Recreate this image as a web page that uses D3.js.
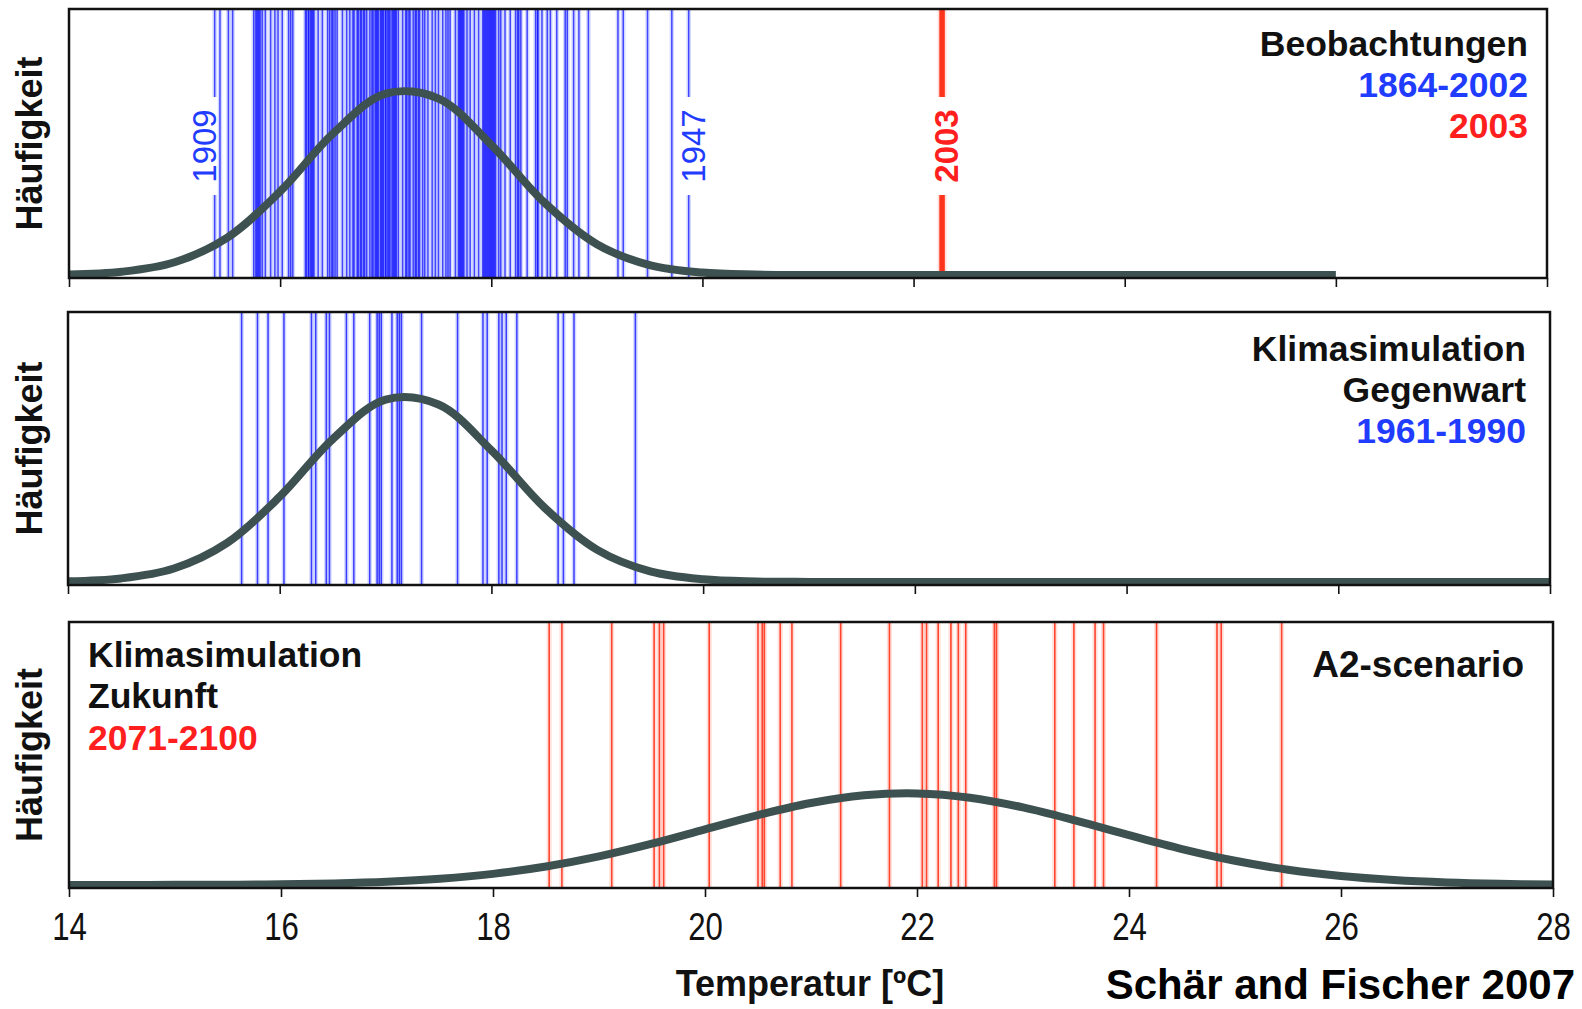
<!DOCTYPE html>
<html>
<head>
<meta charset="utf-8">
<script src="https://cdn.jsdelivr.net/npm/d3@7"></script>
<style>
  html, body { margin: 0; padding: 0; background: #fff; }
  svg { display: block; }
  text { font-family: "Liberation Sans", Arial, Helvetica, sans-serif; }
</style>
</head>
<body>
<script>
// ---- Data -------------------------------------------------------------
// Axis ticks (temperature, °C)
const tempTicks = [14, 16, 18, 20, 22, 24, 26, 28];

// Summer mean temperatures, observations 1864-2002
const obsTemps = [
  15.38, 15.43, 15.51, 15.55,
  15.75, 15.77, 15.78, 15.79, 15.80, 15.81, 15.83, 15.86, 15.91, 15.95, 15.98,
  16.02, 16.08, 16.10, 16.12, 16.24, 16.25, 16.27, 16.27, 16.29, 16.30, 16.31, 16.32,
  16.36, 16.40, 16.45, 16.47, 16.49, 16.50, 16.52, 16.54, 16.59, 16.63, 16.66,
  16.69, 16.70, 16.73, 16.74, 16.76, 16.77, 16.79, 16.80, 16.82, 16.85, 16.87, 16.88,
  16.90, 16.91, 16.92, 16.93, 16.95, 16.96, 16.97, 16.98, 17.00, 17.00, 17.02, 17.03,
  17.04, 17.06, 17.07, 17.08, 17.09, 17.10, 17.12, 17.16, 17.19, 17.20, 17.22, 17.23,
  17.26, 17.28, 17.29, 17.31, 17.32, 17.35, 17.37, 17.40, 17.44, 17.47, 17.50, 17.54,
  17.57, 17.59, 17.61, 17.66, 17.69, 17.70, 17.71, 17.72, 17.73, 17.74, 17.77, 17.80,
  17.84, 17.88, 17.92, 17.93, 17.94, 17.95, 17.96, 17.97, 17.98, 17.99, 18.00, 18.01,
  18.02, 18.03, 18.04, 18.07, 18.09, 18.13, 18.18, 18.23, 18.25, 18.26, 18.28, 18.34,
  18.42, 18.44, 18.44, 18.48, 18.53, 18.56, 18.62, 18.70, 18.72, 18.78, 18.83, 18.92,
  19.20, 19.25, 19.48, 19.71, 19.87
];
// Summer 2003
const obs2003 = [22.27];

// Control simulation 1961-1990
const ctlTemps = [
  15.64, 15.79, 15.89, 16.04, 16.30, 16.34, 16.44, 16.47, 16.63, 16.70,
  16.85, 16.92, 16.94, 16.96, 17.06, 17.11, 17.13, 17.15, 17.34, 17.68,
  17.92, 17.96, 18.07, 18.10, 18.14, 18.24, 18.63, 18.68, 18.78, 19.36
];

// Scenario simulation 2071-2100 (A2)
const scenTemps = [
  18.53, 18.65, 19.12, 19.52, 19.57, 19.61, 20.04, 20.50, 20.54, 20.56,
  20.71, 20.82, 21.28, 21.74, 22.05, 22.09, 22.20, 22.32, 22.39, 22.46,
  22.73, 22.75, 23.30, 23.48, 23.68, 23.76, 24.26, 24.83, 24.87, 25.44
];

// Fitted frequency distributions, sampled every 0.5 °C from 14 °C
const curveTemps = [14, 14.5, 15, 15.5, 16, 16.5, 17, 17.5, 18, 18.5, 19, 19.5, 20, 20.5,
  21, 21.5, 22, 22.5, 23, 23.5, 24, 24.5, 25, 25.5, 26, 26.5, 27, 27.5, 28];
const obsDensity = [0.0014, 0.0074, 0.0288, 0.0847, 0.1891, 0.3201, 0.4108, 0.3995, 0.2946,
  0.1647, 0.0698, 0.0224, 0.0055, 0.0010, 0.0001, 0, 0, 0, 0, 0, 0, 0, 0, 0, 0];
const ctlDensity = [0.0016, 0.0080, 0.0301, 0.0867, 0.1903, 0.3186, 0.4067, 0.3958, 0.2937,
  0.1662, 0.0717, 0.0236, 0.0059, 0.0011, 0.0002, 0, 0, 0, 0, 0, 0, 0, 0, 0, 0, 0, 0, 0, 0];
const scenDensity = [0.0000, 0.0001, 0.0003, 0.0007, 0.0017, 0.0037, 0.0075, 0.0144, 0.0255,
  0.0424, 0.0655, 0.0946, 0.1274, 0.1601, 0.1877, 0.2054, 0.2097, 0.1998, 0.1776, 0.1473,
  0.1140, 0.0823, 0.0555, 0.0349, 0.0205, 0.0112, 0.0057, 0.0027, 0.0012];

// Years written next to individual lines
const yearLabels = ["1909", "1947", "2003"];
const yearLabelTemps = [15.38, 19.87, 22.27];

// ---- Styles -----------------------------------------------------------
const BLUE = "#1414ff", BLUE_HALO = "#8c9cff", BLUE_TEXT = "#1f3cff";
const RED = "#ff2a12", RED_HALO = "#ffab9c", RED_TEXT = "#ff1f1f";
const CURVE = "#3e5151";
const TITLE_SIZE = 35.5;

const W = 1582, H = 1009;
const svg = d3.select("body").append("svg").attr("width", W).attr("height", H);

const yDensity = [0, 0.6];

function drawPanel(p) {
  const x = d3.scaleLinear().domain([14, 28]).range([p.left, p.right]);
  const y = d3.scaleLinear().domain(yDensity).range([p.bottom - 3, p.top + 1]);
  const g = svg.append("g");

  const clipId = "clip-" + p.key;
  svg.append("clipPath").attr("id", clipId)
    .append("rect").attr("x", p.left).attr("y", p.top)
    .attr("width", p.right - p.left).attr("height", p.bottom - p.top);
  const inner = g.append("g").attr("clip-path", `url(#${clipId})`);

  // Vertical lines (one per summer), with a gap where a year is written
  function lineSegments(v) {
    const i = yearLabelTemps.indexOf(v);
    if (p.labels && i >= 0) {
      const cy = p.labelY;
      return [[p.top, cy - 49], [cy + 49, p.bottom]];
    }
    return [[p.top, p.bottom]];
  }
  function drawRug(values, r) {
    const segs = values.flatMap(v => lineSegments(v).map(s => ({ v, y1: s[0], y2: s[1] })));
    inner.append("g").selectAll("line").data(segs).join("line")
      .attr("x1", d => x(d.v)).attr("x2", d => x(d.v))
      .attr("y1", d => d.y1).attr("y2", d => d.y2)
      .attr("stroke", r.halo).attr("stroke-width", r.haloW).attr("stroke-opacity", 0.38);
    inner.append("g").selectAll("line").data(segs).join("line")
      .attr("x1", d => x(d.v)).attr("x2", d => x(d.v))
      .attr("y1", d => d.y1).attr("y2", d => d.y2)
      .attr("stroke", r.core).attr("stroke-width", r.coreW).attr("stroke-opacity", r.coreOp);
  }
  p.rugs.forEach(r => drawRug(r.values, r));

  // Fitted distribution
  const pts = p.density.map((d, i) => [curveTemps[i], d]);
  inner.append("path")
    .datum(pts)
    .attr("fill", "none")
    .attr("stroke", CURVE)
    .attr("stroke-width", 8)
    .attr("d", d3.line().x(d => x(d[0])).y(d => y(d[1])).curve(d3.curveCatmullRom.alpha(0.5)));

  // Year labels on lines
  if (p.labels) {
    yearLabels.forEach((lab, i) => {
      const v = yearLabelTemps[i];
      const isRed = lab === "2003";
      g.append("text")
        .attr("transform", `translate(${x(v) + p.labelDx[i]},${p.labelY}) rotate(-90)`)
        .attr("text-anchor", "middle")
        .attr("dominant-baseline", "central")
        .attr("font-size", 33)
        .attr("font-weight", isRed ? "bold" : "normal")
        .attr("fill", isRed ? RED_TEXT : BLUE_TEXT)
        .text(lab);
    });
  }

  // Frame
  g.append("rect")
    .attr("x", p.left).attr("y", p.top)
    .attr("width", p.right - p.left).attr("height", p.bottom - p.top)
    .attr("fill", "none").attr("stroke", "#111").attr("stroke-width", 2.5);

  // Axis ticks
  const axis = d3.axisBottom(x).tickValues(tempTicks).tickSize(9).tickSizeOuter(0);
  if (!p.tickLabels) axis.tickFormat("");
  const ax = g.append("g").attr("transform", `translate(0,${p.bottom})`).call(axis);
  ax.select(".domain").remove();
  ax.selectAll(".tick line").attr("stroke", "#111").attr("stroke-width", 1.6);
  if (p.tickLabels) {
    ax.selectAll(".tick text")
      .attr("y", 52).attr("dy", 0)
      .attr("font-size", 39)
      .attr("fill", "#111")
      .attr("font-family", "'Liberation Sans', Arial, sans-serif")
      .attr("transform", "scale(0.8,1)");
  }

  // Y-axis title
  g.append("text")
    .attr("transform", `translate(42,${(p.top + p.bottom) / 2}) rotate(-90)`)
    .attr("text-anchor", "middle")
    .attr("font-size", 36).attr("font-weight", "bold").attr("fill", "#111")
    .text("Häufigkeit");

  // Panel titles
  p.titles.forEach(t => {
    g.append("text")
      .attr("x", t.x).attr("y", t.y)
      .attr("text-anchor", t.anchor)
      .attr("font-size", t.size || TITLE_SIZE).attr("font-weight", "bold")
      .attr("fill", t.color)
      .text(t.text);
  });
}

drawPanel({
  key: "obs", left: 69, right: 1547, top: 9, bottom: 278,
  density: obsDensity,
  rugs: [
    { values: obsTemps, core: BLUE, halo: BLUE_HALO, coreW: 1.5, haloW: 4.5, coreOp: 0.75 },
    { values: obs2003, core: RED, halo: RED_HALO, coreW: 5.5, haloW: 9, coreOp: 0.95 }
  ],
  labels: true, labelY: 146, labelDx: [-10, 5, 4],
  titles: [
    { text: "Beobachtungen", x: 1528, y: 56, anchor: "end", color: "#111" },
    { text: "1864-2002", x: 1528, y: 97, anchor: "end", color: BLUE_TEXT },
    { text: "2003", x: 1528, y: 138, anchor: "end", color: RED_TEXT }
  ]
});

drawPanel({
  key: "ctl", left: 68, right: 1550, top: 312, bottom: 585,
  density: ctlDensity,
  rugs: [{ values: ctlTemps, core: BLUE, halo: BLUE_HALO, coreW: 1.5, haloW: 4.5, coreOp: 0.8 }],
  titles: [
    { text: "Klimasimulation", x: 1526, y: 361, anchor: "end", color: "#111" },
    { text: "Gegenwart", x: 1526, y: 402, anchor: "end", color: "#111" },
    { text: "1961-1990", x: 1526, y: 443, anchor: "end", color: BLUE_TEXT }
  ]
});

drawPanel({
  key: "scen", left: 69, right: 1553, top: 622, bottom: 888,
  density: scenDensity,
  rugs: [{ values: scenTemps, core: RED, halo: RED_HALO, coreW: 1.6, haloW: 5, coreOp: 0.85 }],
  tickLabels: true,
  titles: [
    { text: "Klimasimulation", x: 88, y: 667, anchor: "start", color: "#111" },
    { text: "Zukunft", x: 88, y: 708, anchor: "start", color: "#111" },
    { text: "2071-2100", x: 88, y: 750, anchor: "start", color: RED_TEXT },
    { text: "A2-scenario", x: 1524, y: 677, anchor: "end", color: "#111", size: 37 }
  ]
});

// X-axis title and source note
svg.append("text")
  .attr("x", 810).attr("y", 996)
  .attr("text-anchor", "middle")
  .attr("font-size", 36).attr("font-weight", "bold").attr("fill", "#111")
  .text("Temperatur [ºC]");

svg.append("text")
  .attr("x", 1575).attr("y", 999)
  .attr("text-anchor", "end")
  .attr("font-size", 42).attr("font-weight", "bold").attr("fill", "#000")
  .text("Schär and Fischer 2007");
</script>
</body>
</html>
